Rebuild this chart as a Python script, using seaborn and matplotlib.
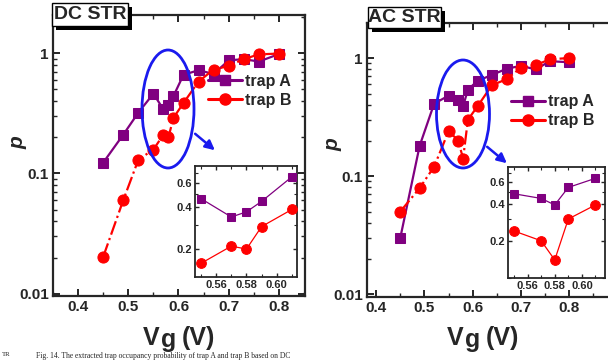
import numpy as np
import pandas as pd
import seaborn as sns
import matplotlib
matplotlib.use("Agg")
import matplotlib.pyplot as plt
from matplotlib.patches import Rectangle, Ellipse
from matplotlib.lines import Line2D
from matplotlib.ticker import LogLocator, MultipleLocator, FixedLocator, NullFormatter, FixedFormatter

# ---------------- data ----------------
vg = [0.45, 0.49, 0.52, 0.55, 0.57, 0.58, 0.59, 0.61, 0.64, 0.67, 0.70, 0.73, 0.76, 0.80]
dc_trapA = [0.123, 0.21, 0.32, 0.46, 0.34, 0.37, 0.44, 0.66, 0.72, 0.67, 0.87, 0.89, 0.85, 0.98]
dc_trapB = [0.0203, 0.060, 0.13, 0.158, 0.21, 0.20, 0.29, 0.385, 0.58, 0.73, 0.78, 0.89, 0.975, 0.99]
ac_trapA = [0.030, 0.18, 0.41, 0.48, 0.44, 0.39, 0.54, 0.64, 0.72, 0.81, 0.86, 0.80, 0.94, 0.92]
ac_trapB = [0.050, 0.079, 0.12, 0.24, 0.20, 0.14, 0.30, 0.39, 0.59, 0.66, 0.83, 0.87, 0.975, 1.0]
inset_vg = [0.55, 0.57, 0.58, 0.59, 0.61]
x_ticks = [0.4, 0.5, 0.6, 0.7, 0.8]
y_ticks = [0.01, 0.1, 1]
y_ticklabels = ["0.01", "0.1", "1"]
inset_x_ticks = [0.56, 0.58, 0.60]
inset_y_ticks = [0.2, 0.4, 0.6]
panel_titles = ["DC STR", "AC STR"]
series_names = ["trap A", "trap B"]

PURPLE = "#800080"
RED = "#ff0000"
BLUE = "#1a1aee"

sns.set_theme(style="ticks")
plt.rcParams.update({
    "font.family": ["Liberation Sans", "DejaVu Sans"],
    "font.weight": "bold",
    "xtick.direction": "in",
    "ytick.direction": "in",
    "axes.linewidth": 1.6,
})

W, H = 608, 360
fig = plt.figure(figsize=(W / 100, H / 100), dpi=100)


def fr(x0, y0, x1, y1):
    """pixel box (top-left origin) -> figure fraction rect"""
    return [x0 / W, 1 - y1 / H, (x1 - x0) / W, (y1 - y0) / H]


def style_main(ax, xlim, ylim):
    ax.set_yscale("log")
    ax.set_xlim(*xlim)
    ax.set_ylim(*ylim)
    ax.xaxis.set_major_locator(FixedLocator(x_ticks))
    ax.xaxis.set_minor_locator(MultipleLocator(0.05))
    ax.set_xticklabels([f"{t:.1f}" for t in x_ticks])
    ax.yaxis.set_major_locator(FixedLocator(y_ticks))
    ax.yaxis.set_major_formatter(FixedFormatter(y_ticklabels))
    ax.yaxis.set_minor_locator(LogLocator(base=10, subs=np.arange(2, 10)))
    ax.yaxis.set_minor_formatter(NullFormatter())
    ax.tick_params(which="both", top=True, right=True, direction="in")
    ax.tick_params(which="major", length=5, width=1.4, labelsize=11, pad=3)
    ax.tick_params(which="minor", length=3, width=1.0)
    for lab in ax.get_xticklabels() + ax.get_yticklabels():
        lab.set_fontweight("bold")
    for s in ax.spines.values():
        s.set_linewidth(1.6)
        s.set_visible(True)
    ax.set_xlabel("")
    ax.set_ylabel("")


def style_inset(ax, xlim, ylim):
    ax.set_yscale("log")
    ax.set_xlim(*xlim)
    ax.set_ylim(*ylim)
    ax.xaxis.set_major_locator(FixedLocator(inset_x_ticks))
    ax.set_xticklabels([f"{t:.2f}" for t in inset_x_ticks])
    ax.xaxis.set_minor_locator(MultipleLocator(0.01))
    ax.yaxis.set_major_locator(FixedLocator(inset_y_ticks))
    ax.yaxis.set_major_formatter(FixedFormatter([f"{t:.1f}" for t in inset_y_ticks]))
    ax.yaxis.set_minor_locator(FixedLocator([0.1, 0.3, 0.5, 0.7]))
    ax.yaxis.set_minor_formatter(NullFormatter())
    ax.tick_params(which="both", top=True, right=True, direction="in")
    ax.tick_params(which="major", length=3, width=1.0, labelsize=8, pad=2)
    ax.tick_params(which="minor", length=2, width=0.8)
    for lab in ax.get_xticklabels() + ax.get_yticklabels():
        lab.set_fontweight("bold")
    for s in ax.spines.values():
        s.set_linewidth(1.3)
    ax.set_xlabel("")
    ax.set_ylabel("")


def plot_series(ax, x, a, b, main=True):
    lw = 1.6 if main else 0.9
    msq = 7 if main else 6
    mci = 8 if main else 7
    sns.lineplot(x=x, y=a, ax=ax, color=PURPLE, marker="s", markersize=msq,
                 markeredgecolor=PURPLE, linewidth=lw, linestyle="-",
                 estimator=None, sort=False, legend=False, zorder=3)
    sns.lineplot(x=x, y=b, ax=ax, color=RED, marker="o", markersize=mci,
                 markeredgecolor=RED, linewidth=lw, linestyle="-." if main else "-",
                 estimator=None, sort=False, legend=False, zorder=4)


panels = [
    dict(rect=fr(53, 15, 305, 296), xlim=(0.35, 0.852), ylim=(0.0096, 2.07),
         a=dc_trapA, b=dc_trapB,
         inset=fr(195, 166, 297, 277), ixlim=(0.546, 0.6134), iylim=(0.126, 0.79),
         box=(52, 3, 128, 26), leg=(0.615, 0.79),
         ell=(168, 109, 52, 118), arr=((193, 132), (217, 152)),
         ylab=(18, 143), xlab=(143, 345)),
    dict(rect=fr(367, 23, 620, 297), xlim=(0.381, 0.905), ylim=(0.00944, 1.98),
         a=ac_trapA, b=ac_trapB,
         inset=fr(508, 167, 605, 278), ixlim=(0.5456, 0.617), iylim=(0.1, 0.79),
         box=(368, 7, 441, 28), leg=(0.57, 0.74),
         ell=(463, 114, 53, 108), arr=((485, 145), (509, 165)),
         ylab=(333, 145), xlab=(447, 345)),
]

for i, p in enumerate(panels):
    ax = fig.add_axes(p["rect"])
    plot_series(ax, vg, p["a"], p["b"], main=True)
    style_main(ax, p["xlim"], p["ylim"])

    handles = [
        Line2D([], [], color=PURPLE, marker="s", markersize=7, linewidth=2.2, linestyle="-"),
        Line2D([], [], color=RED, marker="o", markersize=8, linewidth=2.2, linestyle="-"),
    ]
    ax.legend(handles, series_names, loc="upper left", bbox_to_anchor=p["leg"],
              frameon=False, borderaxespad=0, borderpad=0, handlelength=2.1,
              handletextpad=0.2, labelspacing=0.25,
              prop={"weight": "bold", "size": 11.5})

    # inset
    iax = fig.add_axes(p["inset"])
    idx = [vg.index(v) for v in inset_vg]
    plot_series(iax, inset_vg, [p["a"][k] for k in idx], [p["b"][k] for k in idx], main=False)
    style_inset(iax, p["ixlim"], p["iylim"])

    # ellipse (pixel coords -> figure fraction)
    cx, cy, ew, eh = p["ell"]
    fig.add_artist(Ellipse((cx / W, 1 - cy / H), ew / W, eh / H, transform=fig.transFigure,
                           fill=False, edgecolor=BLUE, linewidth=2.0, zorder=5))
    (x0, y0), (x1, y1) = p["arr"]
    fig.add_artist(matplotlib.patches.FancyArrowPatch(
        (x0 / W, 1 - y0 / H), (x1 / W, 1 - y1 / H), transform=fig.transFigure,
        arrowstyle="-|>", mutation_scale=14, color=BLUE, linewidth=1.8, zorder=5))

    # title box with shadow
    bx0, by0, bx1, by1 = p["box"]
    fig.add_artist(Rectangle(((bx0 + 4) / W, 1 - (by1 + 4) / H), (bx1 - bx0) / W, (by1 - by0) / H,
                             transform=fig.transFigure, facecolor="black", edgecolor="black",
                             linewidth=0, zorder=6))
    fig.add_artist(Rectangle((bx0 / W, 1 - by1 / H), (bx1 - bx0) / W, (by1 - by0) / H,
                             transform=fig.transFigure, facecolor="white", edgecolor="black",
                             linewidth=1.0, zorder=7))
    fig.text((bx0 + bx1) / 2 / W, 1 - (by0 + by1) / 2 / H, panel_titles[i],
             ha="center", va="center", fontsize=14, fontweight="bold", zorder=8)

    # axis labels
    lx, ly = p["ylab"]
    fig.text(lx / W, 1 - ly / H, "p", rotation=90, ha="center", va="center",
             fontsize=15, fontweight="bold", fontstyle="italic")
    xx, xy = p["xlab"]
    fig.text(xx / W, 1 - xy / H, "V", ha="left", va="baseline", fontsize=18, fontweight="bold")
    fig.text((xx + 18) / W, 1 - (xy + 2) / H, "g", ha="left", va="baseline",
             fontsize=18, fontweight="bold")
    fig.text((xx + 39) / W, 1 - xy / H, "(V)", ha="left", va="baseline",
             fontsize=18, fontweight="bold")

# caption at the bottom edge
fig.text(2 / W, 1 - 352 / H, "TR", ha="left", va="top", fontsize=5,
         family=["Liberation Serif", "DejaVu Serif"], fontweight="normal")
fig.text(36 / W, 0.5 / H,
         "Fig. 14. The extracted trap occupancy probability of trap A and trap B based on DC",
         ha="left", va="bottom", fontsize=5.5, family=["Liberation Serif", "DejaVu Serif"],
         fontweight="normal")

fig.savefig("out.png", dpi=100)
